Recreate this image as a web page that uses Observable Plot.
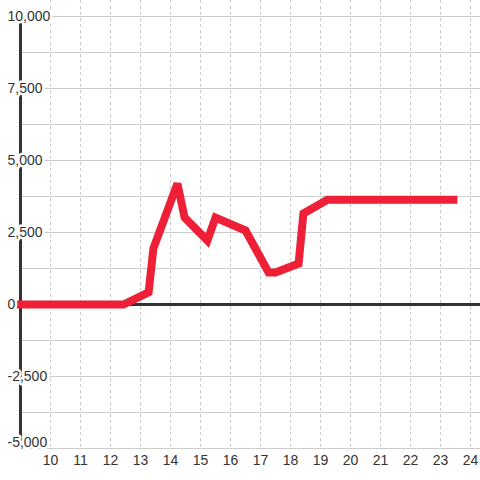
<!DOCTYPE html>
<html>
<head>
<meta charset="utf-8">
<script src="https://cdn.jsdelivr.net/npm/d3@7"></script>
<script src="https://cdn.jsdelivr.net/npm/@observablehq/plot@0.6"></script>
<style>
  html, body { margin: 0; padding: 0; background: #fff; }
  svg { display: block; }
</style>
</head>
<body>
<div id="chart"></div>
<script>
const hours = [9, 12.43, 13.27, 13.43, 14.23, 14.47, 15.23, 15.5, 16.5, 17.27, 17.5, 18.27, 18.43, 19.23, 23.43];
const values = [0, 0, 420, 1950, 4200, 3020, 2220, 3020, 2570, 1110, 1110, 1420, 3160, 3640, 3640];
const xTicks = [10, 11, 12, 13, 14, 15, 16, 17, 18, 19, 20, 21, 22, 23, 24];
const yGrid = [-5000, -3750, -2500, -1250, 0, 1250, 2500, 3750, 5000, 6250, 7500, 8750, 10000];
const yLabels = [-5000, -2500, 0, 2500, 5000, 7500, 10000];

const data = hours.map((h, i) => ({x: h, y: values[i]}));
const fmt = d => d3.format(",")(d).replace("\u2212", "-");
const font = "'Liberation Sans', Arial, sans-serif";
const yMin = d3.min(yLabels);
const labelStyle = {x: 9, y: d => d, text: d => fmt(d), textAnchor: "start", dx: -13, fontSize: 14, fill: "#333", stroke: "white", strokeWidth: 5, fontFamily: font};

const chart = Plot.plot({
  width: 480,
  height: 480,
  marginLeft: 20,
  marginRight: 0,
  marginTop: 0,
  marginBottom: 32,
  style: {fontFamily: font, background: "#fff"},
  x: {domain: [9, 24.333], axis: null},
  y: {domain: [-5000, 10555.6], axis: null},
  marks: [
    Plot.ruleX(xTicks, {stroke: "#c8c8c8", strokeDasharray: "3,3", strokeWidth: 1}),
    Plot.ruleY(yGrid, {stroke: "#cccccc", strokeWidth: 1}),
    Plot.ruleY([0], {stroke: "#333", strokeWidth: 3}),
    Plot.ruleX([9], {y1: -5000, y2: 10000, stroke: "#333", strokeWidth: 3}),
    Plot.line(data, {x: "x", y: "y", stroke: "#ee2037", strokeWidth: 8, strokeLinejoin: "miter", strokeMiterlimit: 2.5, strokeLinecap: "square"}),
    Plot.text(yLabels.filter(d => d !== yMin), labelStyle),
    Plot.text([yMin], {...labelStyle, dy: -6}),
    Plot.text(xTicks, {x: d => d, y: -5000, text: d => String(d), dy: 12.5, fontSize: 14, fill: "#333", fontFamily: font})
  ]
});
document.getElementById("chart").appendChild(chart);
</script>
</body>
</html>
